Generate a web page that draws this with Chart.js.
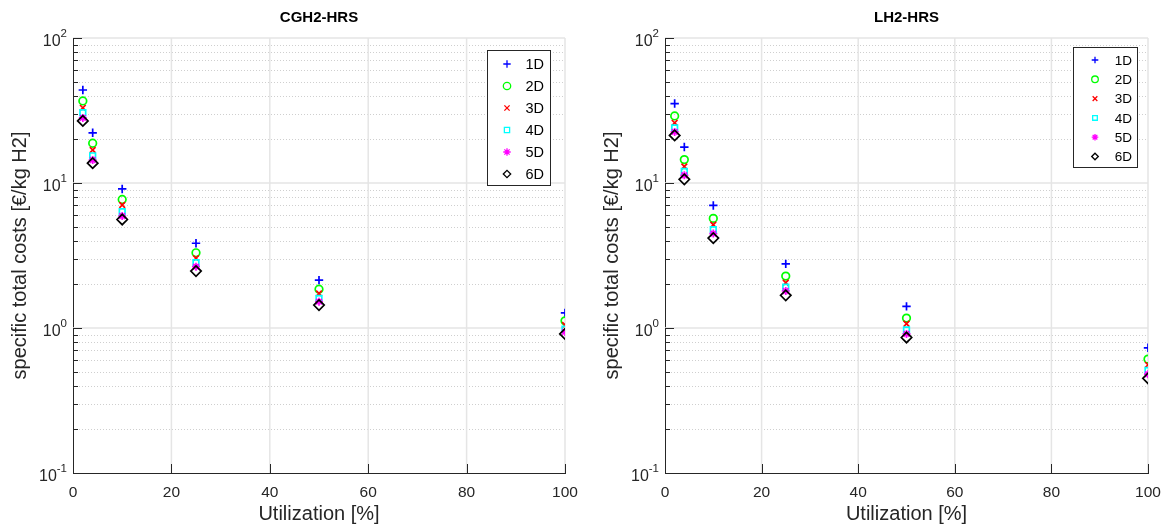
<!DOCTYPE html>
<html>
<head>
<meta charset="utf-8">
<script src="https://cdn.jsdelivr.net/npm/chart.js@4.4.1/dist/chart.umd.min.js"></script>
<style>
  html, body { margin: 0; padding: 0; background: #fff; }
  #wrap { position: relative; width: 1163px; height: 526px; }
  canvas { position: absolute; top: 0; }
</style>
</head>
<body>
<div id="wrap">
  <canvas id="chart-cgh2" width="590" height="526" style="left:0"></canvas>
  <canvas id="chart-lh2" width="573" height="526" style="left:590px"></canvas>
</div>
<script>
const FONT = '"Liberation Sans", Arial, Helvetica, sans-serif';

// Utilization [%] on the x axis
const utilization = [2, 4, 10, 25, 50, 100];
const seriesLabels = ['1D', '2D', '3D', '4D', '5D', '6D'];

// CGH2-HRS, specific total costs [€/kg H2]
const cgh2D1 = [43.8, 22.2, 9.1, 3.84, 2.14, 1.27];
const cgh2D2 = [36.8, 18.8, 7.7, 3.3, 1.85, 1.12];
const cgh2D3 = [33.0, 16.9, 7.05, 3.03, 1.73, 1.05];
const cgh2D4 = [30.5, 15.4, 6.34, 2.82, 1.6, 0.98];
const cgh2D5 = [28.1, 14.4, 5.92, 2.65, 1.52, 0.94];
const cgh2D6 = [26.8, 13.7, 5.6, 2.47, 1.44, 0.91];

// LH2-HRS, specific total costs [€/kg H2]
const lh2D1 = [35.3, 17.7, 7.0, 2.77, 1.41, 0.73];
const lh2D2 = [29.0, 14.5, 5.7, 2.28, 1.17, 0.61];
const lh2D3 = [26.0, 13.0, 5.16, 2.05, 1.07, 0.557];
const lh2D4 = [24.0, 12.0, 4.76, 1.91, 0.97, 0.51];
const lh2D5 = [22.5, 11.3, 4.48, 1.8, 0.91, 0.48];
const lh2D6 = [21.3, 10.6, 4.17, 1.68, 0.86, 0.45];

// axis ticks
const xTicks = [0, 20, 40, 60, 80, 100];
const yDecades = [0.1, 1, 10, 100];
const yMinorSteps = [2, 3, 4, 5, 6, 7, 8, 9];

const MARKERS = [
  { style: 'cross',    color: '#0000ff', r: 4.2 },
  { style: 'circle',   color: '#00ff00', r: 3.8 },
  { style: 'crossRot', color: '#ff0000', r: 4 },
  { style: 'rect',     color: '#00ffff', r: 4 },
  { style: 'star',     color: '#ff00ff', r: 4 },
  { style: 'rectRot',  color: '#000000', r: 5.2 },
];

const line = (ctx, x1, y1, x2, y2) => { ctx.beginPath(); ctx.moveTo(x1, y1); ctx.lineTo(x2, y2); ctx.stroke(); };

// MATLAB-like grid: solid major lines, dotted minor lines on the log axis
const matlabGrid = {
  id: 'matlabGrid',
  beforeDatasetsDraw(chart) {
    const { ctx, chartArea: a, scales: { x, y } } = chart;
    ctx.save();
    ctx.strokeStyle = '#cfcfcf';
    ctx.lineWidth = 1;
    ctx.setLineDash([1, 2]);
    for (const d of yDecades.slice(0, -1)) {
      for (const m of yMinorSteps) {
        const py = Math.round(y.getPixelForValue(d * m)) + 0.5;
        line(ctx, a.left, py, a.right, py);
      }
    }
    ctx.setLineDash([]);
    ctx.strokeStyle = '#e5e5e5';
    ctx.lineWidth = 1.5;
    for (const v of xTicks.slice(1)) {
      const px = x.getPixelForValue(v);
      line(ctx, px, a.top, px, a.bottom);
    }
    for (const d of yDecades.slice(1)) {
      const py = y.getPixelForValue(d);
      line(ctx, a.left, py, a.right, py);
    }
    ctx.restore();
  },
  afterDraw(chart) {
    const { ctx, chartArea: a, scales: { x, y } } = chart;
    ctx.save();
    ctx.strokeStyle = '#262626';
    ctx.lineWidth = 1;
    for (const v of xTicks) {
      const px = Math.round(x.getPixelForValue(v)) + 0.5;
      line(ctx, px, a.bottom, px, a.bottom - 9);
    }
    for (const d of yDecades) {
      const py = Math.round(y.getPixelForValue(d)) + 0.5;
      line(ctx, a.left, py, a.left + 9, py);
      if (d === yDecades[yDecades.length - 1]) continue;
      for (const m of yMinorSteps) {
        const pm = Math.round(y.getPixelForValue(d * m)) + 0.5;
        line(ctx, a.left, pm, a.left + 5, pm);
      }
    }
    // 10^n tick labels
    ctx.fillStyle = '#262626';
    ctx.textBaseline = 'middle';
    ctx.textAlign = 'left';
    for (const d of yDecades) {
      const py = y.getPixelForValue(d);
      const exp = String(Math.round(Math.log10(d)));
      ctx.font = `11.5px ${FONT}`;
      const ew = ctx.measureText(exp).width;
      ctx.font = `16px ${FONT}`;
      const bw = ctx.measureText('10').width;
      const right = a.left - 6;
      ctx.fillText('10', right - ew - bw, py + 4);
      ctx.font = `11.5px ${FONT}`;
      ctx.fillText(exp, right - ew, py - 4);
    }
    ctx.restore();
  },
};

const legendBox = {
  id: 'legendBox',
  afterDraw(chart, args, o) {
    const { ctx } = chart;
    ctx.save();
    ctx.fillStyle = '#fff';
    ctx.fillRect(o.left, o.top, o.width, o.height);
    ctx.strokeStyle = '#262626';
    ctx.lineWidth = 1;
    ctx.strokeRect(Math.round(o.left) + 0.5, Math.round(o.top) + 0.5, o.width, o.height);
    ctx.textAlign = 'right';
    ctx.textBaseline = 'middle';
    chart.data.datasets.forEach((ds, i) => {
      const y = o.top + o.firstRow + i * o.rowGap;
      ctx.strokeStyle = ds.borderColor;
      ctx.fillStyle = 'rgba(0,0,0,0)';
      ctx.lineWidth = 1.3;
      Chart.helpers.drawPoint(ctx, { pointStyle: ds.pointStyle, radius: o.markerRadius, rotation: 0, borderWidth: 1.3 }, o.left + o.markerX, y);
      ctx.fillStyle = '#000';
      ctx.font = `${o.fontSize}px ${FONT}`;
      ctx.fillText(ds.label, o.left + o.textRight, y + 1);
    });
    ctx.restore();
  },
};

function mount(id, title, series, opt) {
  return new Chart(document.getElementById(id), {
    type: 'scatter',
    data: {
      datasets: series.map((vals, i) => ({
        label: seriesLabels[i],
        data: utilization.map((u, j) => ({ x: u, y: vals[j] })),
        pointStyle: MARKERS[i].style,
        pointRadius: MARKERS[i].r,
        pointHoverRadius: MARKERS[i].r,
        borderColor: MARKERS[i].color,
        backgroundColor: 'rgba(0,0,0,0)',
        pointBorderWidth: 1.7,
        order: 6 - i,
      })),
    },
    options: {
      responsive: false,
      animation: false,
      layout: { padding: { top: 0, right: opt.padRight, bottom: 0, left: 0 } },
      plugins: {
        legend: { display: false },
        tooltip: { enabled: false },
        title: {
          display: true, text: title, fullSize: false, color: '#000',
          font: { family: FONT, size: 15, weight: 'bold' },
          padding: { top: 9, bottom: 11 },
        },
        legendBox: opt.legend,
      },
      scales: {
        x: {
          type: 'linear', min: 0, max: 100,
          ticks: { stepSize: 20, maxRotation: 0, padding: 10, color: '#262626', font: { family: FONT, size: 15.5 } },
          grid: { display: false, drawTicks: false },
          border: { display: true, color: '#262626', width: 1 },
          title: { display: true, text: 'Utilization [%]', color: '#262626', font: { family: FONT, size: 20 }, padding: { top: 0, bottom: 0 } },
          afterFit: s => { s.height = 53; s.paddingLeft = 0; s.paddingRight = 0; },
        },
        y: {
          type: 'logarithmic', min: 0.1, max: 100,
          ticks: { display: false },
          grid: { display: false, drawTicks: false },
          border: { display: true, color: '#262626', width: 1 },
          title: { display: true, text: 'specific total costs [€/kg H2]', color: '#262626', font: { family: FONT, size: 20 }, padding: { top: opt.yTitlePad, bottom: 0 } },
          afterFit: s => { s.width = opt.yWidth; },
        },
      },
    },
    plugins: [matlabGrid, legendBox],
  });
}

mount('chart-cgh2', 'CGH2-HRS', [cgh2D1, cgh2D2, cgh2D3, cgh2D4, cgh2D5, cgh2D6], {
  padRight: 25, yWidth: 73, yTitlePad: 8,
  legend: { left: 487, top: 50, width: 63, height: 135, markerX: 20, textRight: 57, firstRow: 14, rowGap: 22, markerRadius: 3.7, fontSize: 14.5 },
});
mount('chart-lh2', 'LH2-HRS', [lh2D1, lh2D2, lh2D3, lh2D4, lh2D5, lh2D6], {
  padRight: 15, yWidth: 75, yTitlePad: 10,
  legend: { left: 483, top: 47, width: 64, height: 120, markerX: 22, textRight: 59, firstRow: 13, rowGap: 19.3, markerRadius: 3.3, fontSize: 13.5 },
});
</script>
</body>
</html>
